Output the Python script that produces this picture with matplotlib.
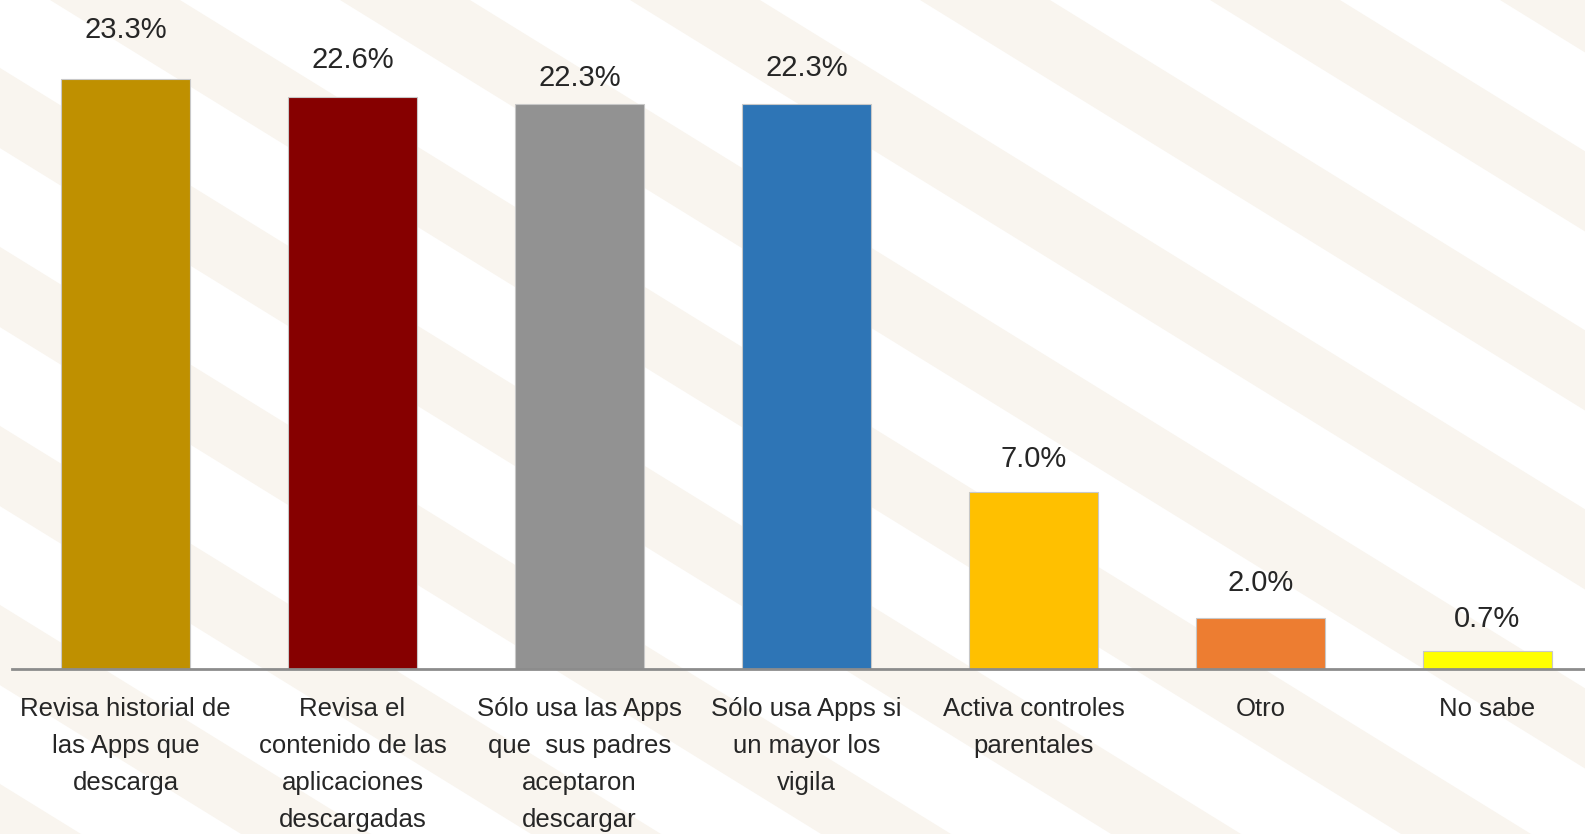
import matplotlib.pyplot as plt
from matplotlib.patches import Polygon

categories = [
    "Revisa historial de\nlas Apps que\ndescarga",
    "Revisa el\ncontenido de las\naplicaciones\ndescargadas",
    "Sólo usa las Apps\nque  sus padres\naceptaron\ndescargar",
    "Sólo usa Apps si\nun mayor los\nvigila",
    "Activa controles\nparentales",
    "Otro",
    "No sabe",
]
values = [23.3, 22.6, 22.3, 22.3, 7.0, 2.0, 0.7]
value_labels = ["23.3%", "22.6%", "22.3%", "22.3%", "7.0%", "2.0%", "0.7%"]

BAR_COLORS = ["#bf9000", "#860000", "#929292", "#2e75b6", "#ffc000", "#ed7d31", "#ffff00"]
# vertical offset of each value label centre above its bar, in points
LABEL_PAD = [35, 26.5, 19, 26, 23.5, 25.5, 23.5]
TEXT_COLOR = "#262626"
STRIPE = "#f9f5ef"

W, H = 1585, 834
fig = plt.figure(figsize=(W / 100, H / 100), dpi=100, facecolor="white")

# faint decorative stripes in the background (pixel coords, origin top-left)
for x0 in range(-1400, 1700, 290):
    pts = [(x0, 0), (x0 + 130, 0), (x0 + 130 + 1.62 * H, H), (x0 + 1.62 * H, H)]
    pts = [(x / W, 1 - y / H) for x, y in pts]
    fig.patches.append(Polygon(pts, closed=True, transform=fig.transFigure,
                               facecolor=STRIPE, edgecolor="none", zorder=-5))

base_y = 669
ymax = 26.0
px_per_unit = (669 - 79) / 23.3
ax = fig.add_axes([12 / W, (H - base_y) / H, 1 - 12 / W, ymax * px_per_unit / H])
ax.patch.set_alpha(0)

x = list(range(len(categories)))
bars = ax.bar(x, values, width=0.565, color=BAR_COLORS,
              edgecolor="#c8c8c8", linewidth=0.8, zorder=2)

for b, lab, pad in zip(bars, value_labels, LABEL_PAD):
    ax.annotate(lab, (b.get_x() + b.get_width() / 2, b.get_height()),
                xytext=(0, pad), textcoords="offset points",
                ha="center", va="center", fontsize=21,
                family="Liberation Sans", color=TEXT_COLOR,
                annotation_clip=False)

ax.set_xlim(-0.5, 6.43)
ax.set_ylim(0, ymax)
ax.set_xticks(x)
ax.set_xticklabels(categories, fontsize=18.5, family="Liberation Sans",
                   color=TEXT_COLOR, linespacing=1.68)
ax.tick_params(axis="x", length=0, pad=20)
ax.set_yticks([])
for side in ["top", "right", "left"]:
    ax.spines[side].set_visible(False)
ax.spines["bottom"].set_color("#8c8c8c")
ax.spines["bottom"].set_linewidth(2)

fig.savefig("out.png", dpi=100, facecolor="white")
